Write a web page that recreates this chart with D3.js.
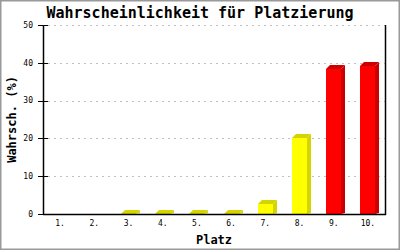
<!DOCTYPE html>
<html><head><meta charset="utf-8">
<script src="https://cdn.jsdelivr.net/npm/d3@7"></script>
<style>body{margin:0;background:#fff}svg{display:block}</style>
</head><body><svg width="400" height="250"></svg>
<script>
const categories = ["1.","2.","3.","4.","5.","6.","7.","8.","9.","10."];
const values = [0,0,0.1,0.1,0.1,0.1,2.6,20.2,38.4,39.2];
const yTicks = [0,10,20,30,40,50];
const title = "Wahrscheinlichkeit für Platzierung";
const xTitle = "Platz";
const yTitle = "Wahrsch. (%)";

const svg = d3.select("svg");
const mono = "'DejaVu Sans Mono', monospace";
const L=43,R=385,T=25,B=214;
svg.append("rect").attr("x",0.5).attr("y",0.5).attr("width",399).attr("height",249)
  .attr("fill","#fff").attr("stroke","#999").attr("stroke-width",2);

const x = d3.scaleBand().domain(categories).range([L,R]);
const y = d3.scaleLinear().domain([0,50]).range([B,T]);

// grid
svg.append("g").selectAll("line").data(yTicks.filter(t=>t>0)).join("line")
  .attr("x1",L+5).attr("x2",R).attr("y1",d=>Math.round(y(d))+0.5).attr("y2",d=>Math.round(y(d))+0.5)
  .attr("stroke","#c0c0c0").attr("stroke-dasharray","2,4");

// bars
const d = 4, bw = 15;
const g = svg.append("g");
categories.forEach((c,i)=>{
  const v = values[i];
  if(v<=0) return;
  const cx = x(c)+x.bandwidth()/2;
  const x0 = Math.round(cx-bw/2), x1 = x0+bw;
  const yt = Math.round(y(v)), y0 = y(0);
  const front = v>30 ? "#ff0000" : "#ffff00";
  const dark = v>30 ? "#cc0000" : "#d4d400";
  g.append("path").attr("d",`M${x1},${yt}L${x1+d},${yt-d}L${x1+d},${y0-1}L${x1},${y0}Z`).attr("fill",dark);
  g.append("path").attr("d",`M${x0},${yt}L${x0+d},${yt-d}L${x1+d},${yt-d}L${x1},${yt}Z`).attr("fill",dark);
  g.append("rect").attr("x",x0).attr("y",yt).attr("width",bw).attr("height",Math.max(0,y0-yt)).attr("fill",front);
});

// axes lines
svg.append("line").attr("x1",L).attr("x2",R+1).attr("y1",B+0.5).attr("y2",B+0.5).attr("stroke","#000").attr("stroke-width",1.5);
svg.append("line").attr("x1",L+0.5).attr("x2",L+0.5).attr("y1",T).attr("y2",B+1).attr("stroke","#000").attr("stroke-width",1.5);
svg.append("line").attr("x1",R+0.5).attr("x2",R+0.5).attr("y1",T).attr("y2",B+1).attr("stroke","#000").attr("stroke-width",1.5);

// y ticks
const yt = svg.append("g");
yt.selectAll("line").data(yTicks).join("line")
  .attr("x1",L-5).attr("x2",L+5).attr("y1",t=>Math.round(y(t))+0.5).attr("y2",t=>Math.round(y(t))+0.5)
  .attr("stroke","#000");
yt.selectAll("text").data(yTicks).join("text")
  .attr("x",L-10).attr("y",t=>y(t)).attr("dy","0.35em").attr("text-anchor","end")
  .attr("font-family",mono).attr("font-size",8).text(t=>t);

// x labels
svg.append("g").selectAll("text").data(categories).join("text")
  .attr("x",c=>x(c)+x.bandwidth()/2).attr("y",226).attr("text-anchor","middle")
  .attr("font-family",mono).attr("font-size",8).text(c=>c);

// titles
svg.append("text").attr("x",200).attr("y",18).attr("text-anchor","middle")
  .attr("font-family",mono).attr("font-weight","bold").attr("font-size",15).text(title);
svg.append("text").attr("x",(L+R)/2).attr("y",244).attr("text-anchor","middle")
  .attr("font-family",mono).attr("font-weight","bold").attr("font-size",12).text(xTitle);
svg.append("text").attr("transform",`translate(16,${(T+B)/2}) rotate(-90)`).attr("text-anchor","middle")
  .attr("font-family",mono).attr("font-weight","bold").attr("font-size",12).text(yTitle);
</script></body></html>
